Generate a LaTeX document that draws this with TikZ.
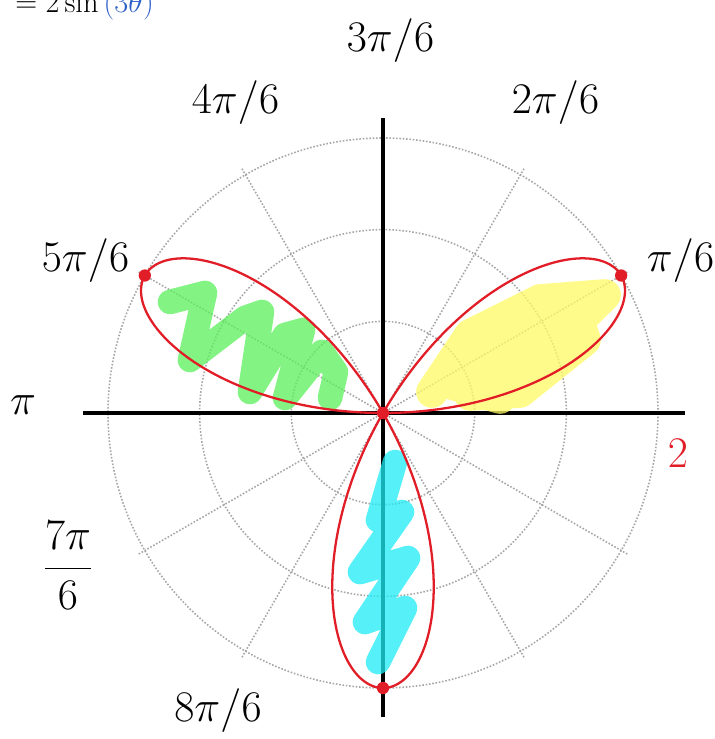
\documentclass[tikz,border=0pt]{standalone}
\usepackage{xcolor}
\usepackage{amsmath}
\usetikzlibrary{calc}

\definecolor{penred}{RGB}{225,30,40}
\definecolor{eqblue}{RGB}{45,95,200}
\definecolor{hlgreen}{RGB}{90,240,90}
\definecolor{hlyellow}{RGB}{255,250,100}
\definecolor{hlcyan}{RGB}{30,235,245}

\begin{document}
\begin{tikzpicture}[
    grid/.style={gray!70, densely dotted, line width=0.9pt},
    axis/.style={black, line width=2.8pt},
    rose/.style={penred, line width=1.3pt},
    scrib/.style={line width=14pt, line join=round, line cap=round, opacity=0.75, #1},
    hand/.style={font=\Huge, inner sep=0pt},
    tip/.style={circle, fill=penred, inner sep=0pt, minimum size=7pt}
]
    \useasboundingbox (-7.66,-6.52) rectangle (6.62,8.26);

    % equation, cut at the top
    \node[anchor=base west, inner sep=0pt, font=\LARGE] (eq) at (-7.36,8.0)
        {$=2\sin\textcolor{eqblue}{(3\theta)}$};

    % polar grid
    \foreach \r in {1.833,3.667,5.5}
        \draw[grid] (0,0) circle (\r);
    \foreach \a in {0,30,...,330}
        \draw[grid] (0,0) -- (\a:5.65);

    % axes
    \coordinate (O) at (0,0);
    \coordinate (xl) at (-6.0,0);
    \coordinate (xr) at (6.04,0);
    \coordinate (yt) at (0,5.9);
    \coordinate (yb) at (0,-6.08);
    \draw[axis] (xl) -- (xr);
    \draw[axis] (yb) -- (yt);

    % shading scribbles (pixel frame)
    \begin{scope}[x=0.02cm, y=-0.02cm, shift={(-383,-413)}]
        \draw[scrib=hlgreen] (170,302) -- (205,293) -- (190,360) -- (245,318)
            -- (262,312) -- (250,392) -- (285,335) -- (303,330) -- (285,398)
            -- (322,352) -- (336,372) -- (330,398);
        \draw[scrib=hlyellow, line width=18pt] (432,392) -- (470,335) -- (540,300)
            -- (605,295) -- (500,398) -- (445,382) -- (575,312) -- (585,340)
            -- (520,392) -- (470,395) -- (560,330) -- (480,350) -- (540,318);
        \draw[scrib=hlcyan] (395,462) -- (378,520) -- (402,512) -- (360,572)
            -- (408,558) -- (365,622) -- (405,608) -- (378,662);
    \end{scope}

    % r = 2 sin(3 theta)
    \draw[rose, x=2.75cm, y=2.75cm] plot[domain=0:180, samples=181, smooth]
        (\x:{2*sin(3*\x)});
    \node[tip] (t1) at (30:5.5) {};
    \node[tip] (t2) at (150:5.5) {};
    \node[tip] (t3) at (270:5.5) {};
    \node[tip] (t0) at (O) {};

    % angle labels
    \node[hand] (l3) at (0.15,7.45) {$3\pi/6$};
    \node[hand] (l2) at (3.45,6.2) {$2\pi/6$};
    \node[hand] (l4) at (-2.95,6.2) {$4\pi/6$};
    \node[hand] (l5) at (-5.95,3.05) {$5\pi/6$};
    \node[hand] (l1) at (5.95,3.05) {$\pi/6$};
    \node[hand] (l6) at (-7.2,0.15) {$\pi$};
    \node[hand] (l7) at (-6.3,-3.05) {$\dfrac{7\pi}{6}$};
    \node[hand] (l8) at (-3.3,-5.95) {$8\pi/6$};
    \node[hand, text=penred] (rmax) at (5.9,-0.8) {$2$};
\end{tikzpicture}
\end{document}
